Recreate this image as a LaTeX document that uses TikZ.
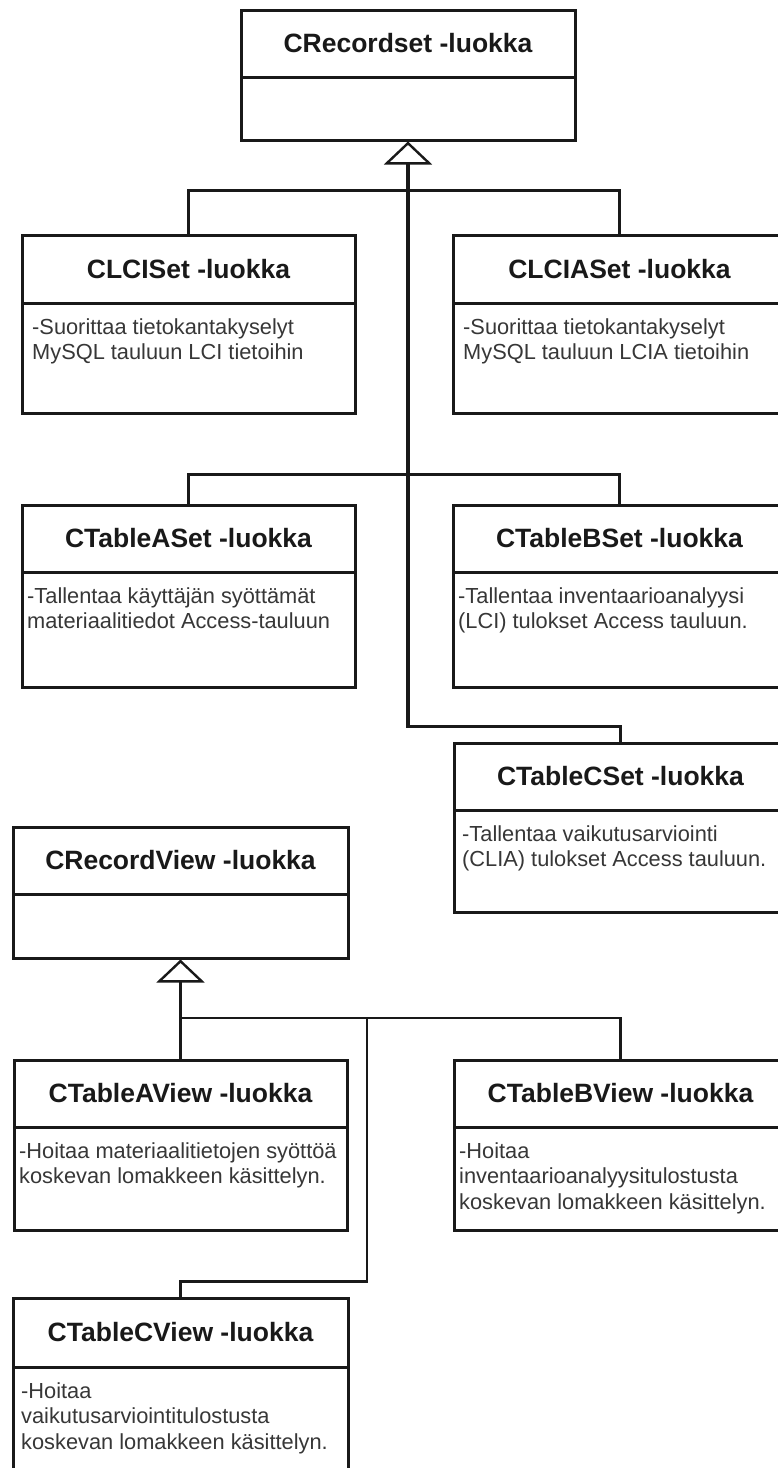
\documentclass[tikz,border=0pt]{standalone}
\usepackage{fontspec}
\setmainfont{Liberation Sans}
\usetikzlibrary{arrows.meta,fit}

\definecolor{ink}{RGB}{25,25,25}
\definecolor{bodyink}{RGB}{55,55,55}

\tikzset{
  classbox/.style={draw=ink, line width=3pt, inner sep=0pt},
  classrule/.style={draw=ink, line width=3pt},
  classtitle/.style={font=\fontsize{26.5}{30}\selectfont\bfseries, text=ink, inner sep=0pt},
  classbody/.style={font=\fontsize{21.8}{25.5}\selectfont, text=bodyink, align=left,
                    anchor=north west, inner sep=0pt},
  conn/.style={draw=ink, line width=2.6pt},
  gen/.style={draw=ink, line width=3.2pt,
              -{Triangle[open, length=23pt, width=48pt, line width=2.4pt]}},
}

% UML class box: name, left, top, right, divider, bottom, text indent, title, body
\newcommand\umlclass[9]{%
  \node[classbox, fit={(#2,#3) (#4,#6)}] (#1) {};
  \draw[classrule] (#2,#5) -- (#4,#5);
  \node[classtitle] (#1-title) at ({(#2+#4)/2},{(#3+#5)/2}) {#8};
  \node[classbody] (#1-body) at ({#2+#7},{#5+15}) {#9};
}

\begin{document}
\begin{tikzpicture}[x=1pt, y=-1pt]
  \useasboundingbox (0,0) rectangle (778,1468);
  \clip (0,0) rectangle (778,1468);
  \fill[white] (0,0) rectangle (778,1468);

  % recordset hierarchy
  \umlclass{recordset}{241}{10}{575}{77}{140}{0}{CRecordset -luokka}{}
  \umlclass{lciset}{22}{235}{355}{303}{413}{10}{CLCISet -luokka}%
    {-Suorittaa tietokantakyselyt\\MySQL tauluun LCI tietoihin}
  \umlclass{lciaset}{453}{235}{786}{303}{413}{10}{CLCIASet -luokka}%
    {-Suorittaa tietokantakyselyt\\MySQL tauluun LCIA tietoihin}
  \umlclass{taset}{22}{505}{355}{572}{687}{5}{CTableASet -luokka}%
    {-Tallentaa käyttäjän syöttämät\\materiaalitiedot Access-tauluun}
  \umlclass{tbset}{453}{505}{786}{572}{687}{5}{CTableBSet -luokka}%
    {-Tallentaa inventaarioanalyysi\\(LCI) tulokset Access tauluun.}
  \umlclass{tcset}{454}{743}{787}{810}{912}{8}{CTableCSet -luokka}%
    {-Tallentaa vaikutusarviointi\\(CLIA) tulokset Access tauluun.}

  % record view hierarchy
  \umlclass{recordview}{13}{827}{348}{894}{958}{0}{CRecordView -luokka}{}
  \umlclass{taview}{14}{1060}{347}{1127}{1230}{5}{CTableAView -luokka}%
    {-Hoitaa materiaalitietojen syöttöä\\koskevan lomakkeen käsittelyn.}
  \umlclass{tbview}{454}{1060}{787}{1127}{1230}{5}{CTableBView -luokka}%
    {-Hoitaa\\inventaarioanalyysitulostusta\\koskevan lomakkeen käsittelyn.}
  \umlclass{tcview}{13}{1298}{348}{1367}{1500}{8}{CTableCView -luokka}%
    {-Hoitaa\\vaikutusarviointitulostusta\\koskevan lomakkeen käsittelyn.}

  % generalisation connectors
  \draw[gen] (tcset.north) -- ++(0,-15) -| (recordset.south);
  \draw[conn] (lciset.north) -- ++(0,-43) -| (lciaset.north);
  \draw[conn] (taset.north) -- ++(0,-29) -| (tbset.north);

  \draw[gen] (taview.north) -- (recordview.south);
  \coordinate (vhub) at (180.5,1018);
  \coordinate (vjoin) at (367,1018);
  \draw[conn] (tbview.north) |- (vhub);
  \draw[conn] (tcview.north) -- ++(0,-15) -| (vjoin);
\end{tikzpicture}
\end{document}
